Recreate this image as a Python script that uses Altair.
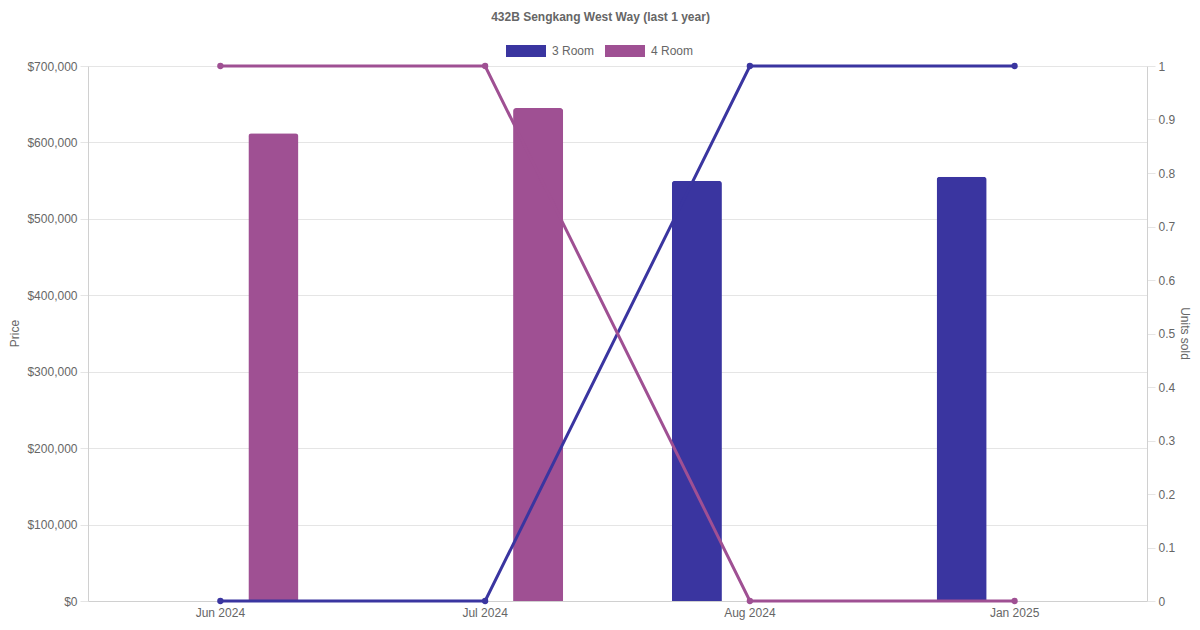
import altair as alt
import pandas as pd

months = ["Jun 2024", "Jul 2024", "Aug 2024", "Jan 2025"]
room_types = ["3 Room", "4 Room"]
price_3room = [None, None, 550000, 555000]
price_4room = [612000, 645000, None, None]
units_3room = [0, 0, 1, 1]
units_4room = [1, 1, 0, 0]
colors = ["#3a35a0", "#9f5093"]

rows = []
for i, m in enumerate(months):
    rows.append({"month": m, "type": "3 Room", "price": price_3room[i], "units": units_3room[i]})
    rows.append({"month": m, "type": "4 Room", "price": price_4room[i], "units": units_4room[i]})
df = pd.DataFrame(rows)
bars_df = df.dropna(subset=["price"])

FONT = "Liberation Sans"
GREY = "#666666"

xscale = alt.Scale(type="band", domain=months, paddingInner=0, paddingOuter=0)
xaxis = alt.Axis(title=None, labelAngle=0, ticks=False, labelPadding=6, domainColor="#d0d0d0",
                 grid=False, labelColor=GREY, labelFontSize=12, labelFont=FONT)
color = alt.Color("type:N", scale=alt.Scale(domain=room_types, range=colors),
                  legend=alt.Legend(title=None, orient="none", direction="horizontal",
                                    legendX=418, legendY=-35,
                                    symbolType="M-1,-0.3H1V0.3H-1Z", symbolSize=1600,
                                    symbolStrokeWidth=0, labelFontSize=12, labelColor=GREY,
                                    labelFont=FONT, columnPadding=10, labelOffset=6))

bars = alt.Chart(bars_df).mark_bar(cornerRadiusTopLeft=3, cornerRadiusTopRight=3).encode(
    x=alt.X("month:N", scale=xscale, axis=xaxis, sort=months),
    xOffset=alt.XOffset("type:N", scale=alt.Scale(domain=room_types, paddingInner=0.528, paddingOuter=0.513)),
    y=alt.Y("price:Q", scale=alt.Scale(domain=[0, 700000], nice=False),
            axis=alt.Axis(title="Price", values=list(range(0, 700001, 100000)), format="$,.0f",
                          orient="left", grid=True, gridColor="#e5e5e5", tickColor="#e5e5e5",
                          tickSize=8, labelPadding=3, domainColor="#d0d0d0",
                          labelColor=GREY, labelFontSize=12, labelFont=FONT,
                          titleColor=GREY, titleFontSize=12, titleFontWeight="normal", titleFont=FONT,
                          titleX=-74, titleY=267, titleAngle=-90, titleAlign="center",
                          titleBaseline="middle")),
    color=color,
)

lines = alt.Chart(df).mark_line(strokeWidth=3, point=alt.OverlayMarkDef(filled=True, size=40)).encode(
    x=alt.X("month:N", scale=xscale, axis=xaxis, sort=months),
    y=alt.Y("units:Q", scale=alt.Scale(domain=[0, 1], nice=False),
            axis=alt.Axis(title="Units sold", values=[i / 10 for i in range(11)], format="~g",
                          orient="right", grid=False, tickColor="#e5e5e5", tickSize=8,
                          labelPadding=3, domainColor="#d0d0d0",
                          labelColor=GREY, labelFontSize=12, labelFont=FONT,
                          titleColor=GREY, titleFontSize=12, titleFontWeight="normal", titleFont=FONT,
                          titleX=37, titleY=267, titleAngle=90, titleAlign="center",
                          titleBaseline="middle")),
    color=color,
)

chart = alt.layer(bars, lines).resolve_scale(y="independent").properties(
    width=1059, height=535,
    autosize=alt.AutoSizeParams(type="none"),
    padding={"left": 80, "top": 58, "right": 45, "bottom": 21},
    title=alt.TitleParams("432B Sengkang West Way (last 1 year)", fontSize=12, fontWeight="bold",
                          color=GREY, font=FONT, anchor="middle", dx=-17, dy=-3, frame="group"),
).configure_view(stroke=None)

chart.save("out.html", embed_options={"renderer": "svg", "actions": False})
